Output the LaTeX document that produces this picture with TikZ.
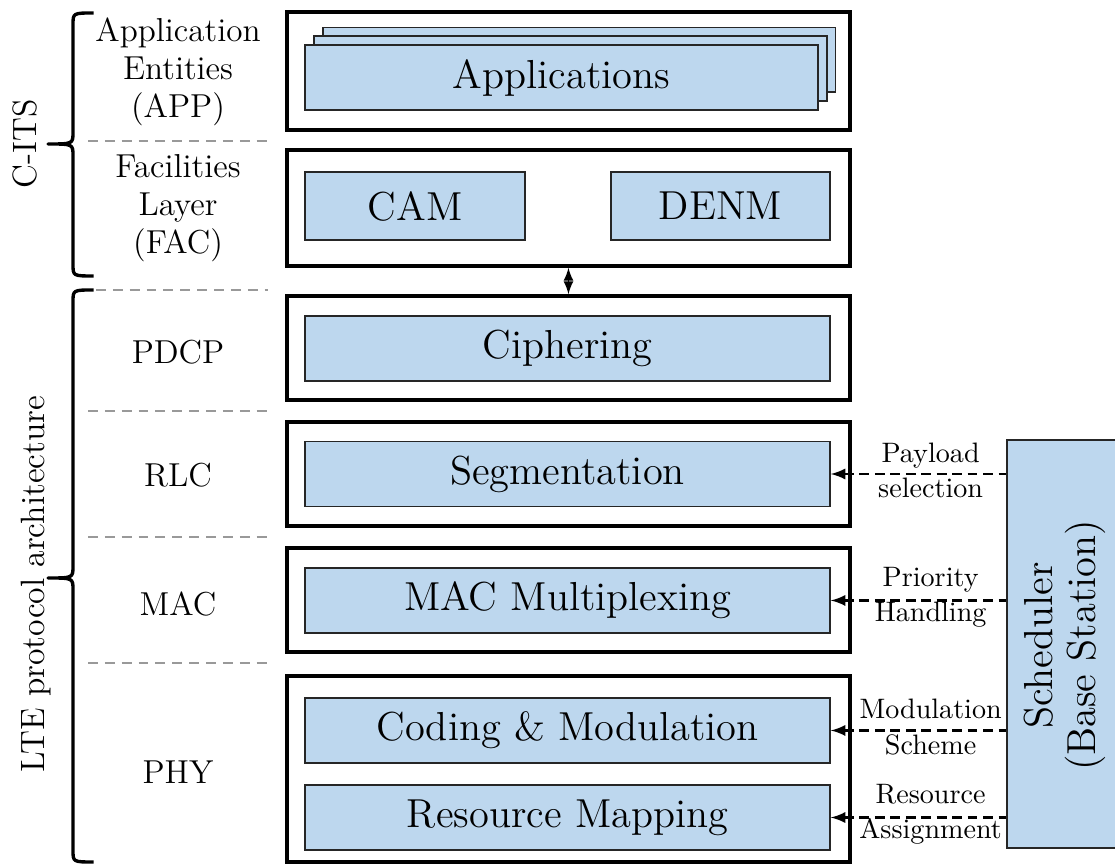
\documentclass[tikz,border=0pt]{standalone}
\usepackage{tikz}
\definecolor{boxblue}{RGB}{189,215,238}

\begin{document}
\begin{tikzpicture}[
layerbox/.style={draw, very thick, minimum width=7.04cm, inner sep=0pt},
blockbox/.style={draw=black!85, semithick, fill=boxblue, minimum width=6.56cm, minimum height=0.81cm, inner sep=0pt, font=\Large},
appcard/.style={draw=black!85, semithick, fill=boxblue, minimum width=6.41cm, minimum height=0.81cm, inner sep=0pt, font=\Large},
layertext/.style={align=center, font=\fontsize{11.8}{13.4}\selectfont},
sepline/.style={black!40, thick, dash pattern=on 3.5pt off 2.5pt},
ctrlarrow/.style={thick, dash pattern=on 3.5pt off 2pt, <-, >=latex},
ctrltext/.style={align=center, font=\fontsize{10}{12.5}\selectfont, inner sep=0pt, yshift=1.2pt},
bracket/.style={very thick, line join=round}
]
    \useasboundingbox (0,0) rectangle (13.9375,-10.8375);

    % layer frames
    \node [layerbox, minimum height=1.475cm] (applayer) at (7.106,-0.8875) {};
    \node [layerbox, minimum height=1.45cm] (faclayer) at (7.106,-2.6) {};
    \node [layerbox, minimum height=1.3cm] (pdcplayer) at (7.106,-4.35) {};
    \node [layerbox, minimum height=1.3cm] (rlclayer) at (7.106,-5.925) {};
    \node [layerbox, minimum height=1.3cm] (maclayer) at (7.106,-7.5) {};
    \node [layerbox, minimum height=2.325cm] (phylayer) at (7.106,-9.6125) {};

    % stacked applications
    \node [appcard] (app3) at (7.239,-0.749) {};
    \node [appcard] (app2) at (7.129,-0.859) {};
    \node [appcard] (app1) at (7.019,-0.969) {Applications};

    \node [blockbox, minimum width=2.75cm, minimum height=0.85cm] (cam) at (5.1875,-2.575) {CAM};
    \node [blockbox, minimum width=2.74cm, minimum height=0.85cm] (denm) at (9.006,-2.575) {DENM};

    \node [blockbox] (cipher) at (7.094,-4.356) {Ciphering};
    \node [blockbox] (segment) at (7.094,-5.925) {Segmentation};
    \node [blockbox] (muxing) at (7.094,-7.506) {MAC Multiplexing};
    \node [blockbox] (coding) at (7.094,-9.131) {Coding \& Modulation};
    \node [blockbox] (mapping) at (7.094,-10.219) {Resource Mapping};

    % scheduler
    \node [draw=black!85, semithick, fill=boxblue, minimum width=1.45cm, minimum height=5.1cm, inner sep=0pt] (sched) at (13.31,-8.05) {};
    \node [rotate=90, align=center, font=\fontsize{14.4}{15.5}\selectfont] (schedtext) at (13.31,-8.07) {Scheduler\\(Base Station)};

    % layer names
    \node [layertext] (applbl) at (2.225,-0.9) {Application\\Entities\\(APP)};
    \node [layertext] (faclbl) at (2.225,-2.6) {Facilities\\Layer\\(FAC)};
    \node [layertext] (pdcplbl) at (2.225,-4.4) {PDCP};
    \node [layertext] (rlclbl) at (2.225,-5.94) {RLC};
    \node [layertext] (maclbl) at (2.225,-7.55) {MAC};
    \node [layertext] (phylbl) at (2.225,-9.65) {PHY};

    \draw [sepline] (1.1,-1.7625) -- (3.35,-1.7625);
    \draw [sepline] (1.2,-3.625) -- (3.35,-3.625);
    \draw [sepline] (1.1,-5.1375) -- (3.35,-5.1375);
    \draw [sepline] (1.1,-6.7125) -- (3.35,-6.7125);
    \draw [sepline] (1.1,-8.2875) -- (3.35,-8.2875);

    % braces
    \draw [bracket] (1.17,-0.1625) .. controls (0.9125,-0.1625) .. (0.9125,-0.3125) -- (0.9125,-1.65)
        .. controls (0.9125,-1.8) .. (0.6,-1.8) .. controls (0.9125,-1.8) .. (0.9125,-1.95)
        -- (0.9125,-3.3) .. controls (0.9125,-3.45) .. (1.17,-3.45);
    \draw [bracket] (1.17,-3.625) .. controls (0.9125,-3.625) .. (0.9125,-3.775) -- (0.9125,-7.075)
        .. controls (0.9125,-7.225) .. (0.6,-7.225) .. controls (0.9125,-7.225) .. (0.9125,-7.375)
        -- (0.9125,-10.625) .. controls (0.9125,-10.775) .. (1.17,-10.775);
    \node [rotate=90, font=\large] (citslbl) at (0.31,-1.8) {C-ITS};
    \node [rotate=90, font=\large] (ltelbl) at (0.45,-7.3) {LTE protocol architecture};

    \draw [semithick, <->, >=latex] (faclayer.south) -- (pdcplayer.north);

    \draw [ctrlarrow] (segment.east) -- node [ctrltext, pos=0.57] (paylbl) {Payload\\selection} (sched.west |- segment.east);
    \draw [ctrlarrow] (muxing.east) -- node [ctrltext, pos=0.57] (prilbl) {Priority\\Handling} (sched.west |- muxing.east);
    \draw [ctrlarrow] (coding.east) -- node [ctrltext, pos=0.57] (modlbl) {Modulation\\Scheme} (sched.west |- coding.east);
    \draw [ctrlarrow] (mapping.east) -- node [ctrltext, pos=0.57] (reslbl) {Resource\\Assignment} (sched.west |- mapping.east);
\end{tikzpicture}
\end{document}
